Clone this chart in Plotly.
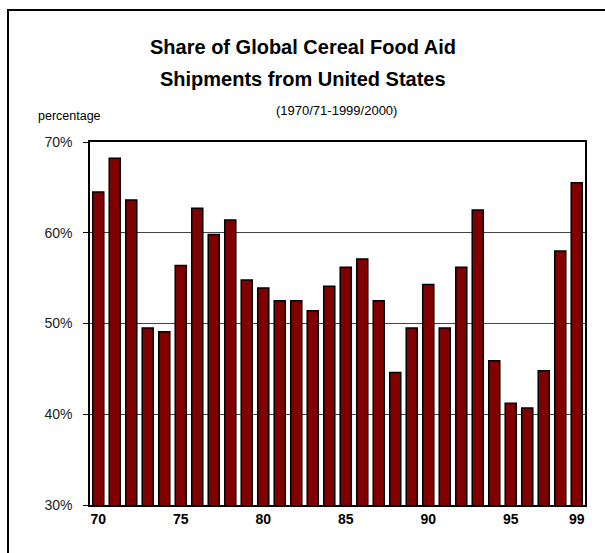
import plotly.graph_objects as go

# Marketing years 1970/71 .. 1999/2000, labelled by first year (two digits)
years = list(range(70, 100))
us_share = [64.5, 68.2, 63.6, 49.5, 49.1, 56.4, 62.7, 59.8, 61.4, 54.8,
            53.9, 52.5, 52.5, 51.4, 54.1, 56.2, 57.1, 52.5, 44.6, 49.5,
            54.3, 49.5, 56.2, 62.5, 45.9, 41.2, 40.7, 44.8, 58.0, 65.5]
x_tick_years = [70, 75, 80, 85, 90, 95, 99]
y_ticks = [30, 40, 50, 60, 70]

W, H = 605, 553
L, R, T, B = 90, 20, 142, 48
pw, ph = W - L - R, H - T - B


def px_x(x):
    return (x - L) / pw


def px_y(y):
    return (H - B - y) / ph


fig = go.Figure()
fig.add_trace(go.Bar(
    x=years, y=us_share,
    marker=dict(color="#800000", line=dict(color="black", width=1.5)),
    hoverinfo="x+y",
))

font_main = "Liberation Sans, Arial, sans-serif"

fig.update_layout(
    width=W, height=H,
    margin=dict(l=L, r=R, t=T, b=B),
    paper_bgcolor="white", plot_bgcolor="white",
    showlegend=False,
    bargap=0.33,
    font=dict(family=font_main, color="black"),
    xaxis=dict(
        range=[69.5, 99.5],
        tickvals=x_tick_years,
        ticktext=[str(v) for v in x_tick_years],
        tickfont=dict(size=14, family=font_main, color="black", weight="bold"),
        showgrid=False, zeroline=False,
        showline=True, linecolor="black", linewidth=1.5, mirror=True,
        ticks="", ticklen=0,
    ),
    yaxis=dict(
        range=[30, 70],
        tickvals=y_ticks,
        ticktext=[f"{v}%" for v in y_ticks],
        tickfont=dict(size=14, family=font_main, color="#222"),
        showgrid=True, gridcolor="#444", gridwidth=1,
        zeroline=False,
        showline=True, linecolor="black", linewidth=1.5, mirror=True,
        ticks="outside", ticklen=5, tickcolor="black", tickwidth=1,
        ticklabelstandoff=8,
    ),
)

# Outer frame around the chart
fig.add_shape(type="rect", xref="paper", yref="paper",
              x0=px_x(8), x1=px_x(640), y0=px_y(600), y1=px_y(10),
              line=dict(color="black", width=2), fillcolor="rgba(0,0,0,0)",
              layer="above")

fig.add_annotation(xref="paper", yref="paper", x=px_x(303), y=px_y(47),
                   text="<b>Share of Global Cereal Food Aid</b>", showarrow=False,
                   font=dict(size=20, family=font_main, color="black"),
                   xanchor="center", yanchor="middle")
fig.add_annotation(xref="paper", yref="paper", x=px_x(303), y=px_y(79),
                   text="<b>Shipments from United States</b>", showarrow=False,
                   font=dict(size=20, family=font_main, color="black"),
                   xanchor="center", yanchor="middle")
fig.add_annotation(xref="paper", yref="paper", x=px_x(336), y=px_y(110),
                   text="(1970/71-1999/2000)", showarrow=False,
                   font=dict(size=13, family=font_main, color="black"),
                   xanchor="center", yanchor="middle")
fig.add_annotation(xref="paper", yref="paper", x=px_x(36), y=px_y(116),
                   text="percentage", showarrow=False,
                   font=dict(size=12.5, family=font_main, color="black"),
                   xanchor="left", yanchor="middle")

fig.write_html("out.html")
